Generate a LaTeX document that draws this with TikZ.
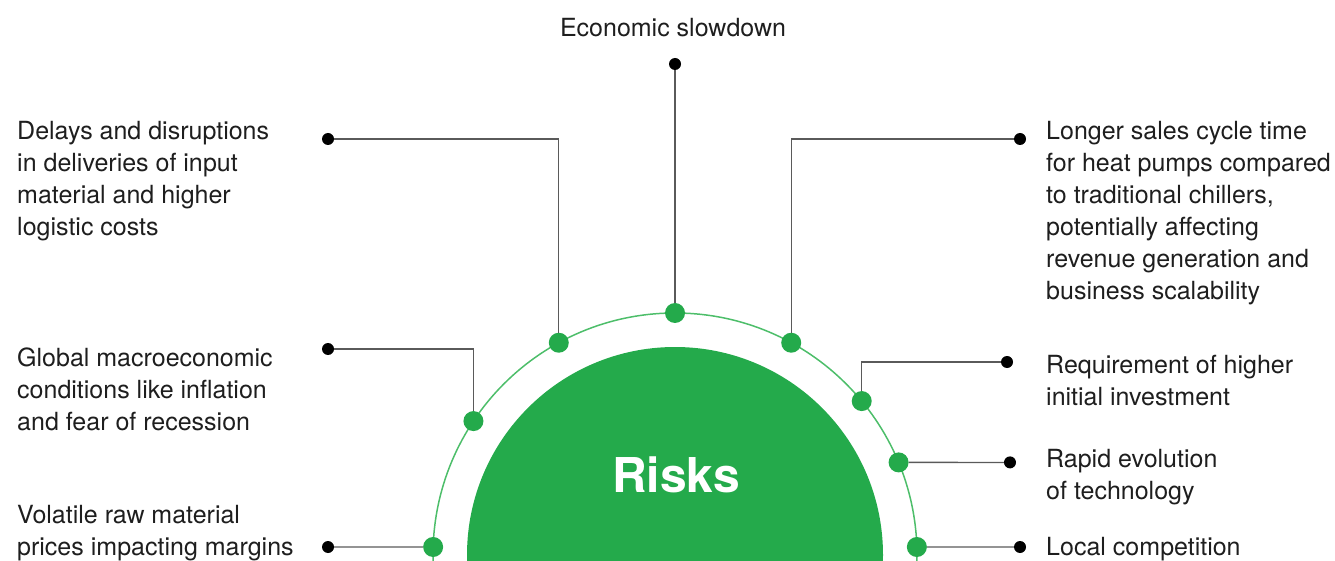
\documentclass[tikz,border=0pt]{standalone}
\usepackage{fontspec}
\setmainfont{TeX Gyre Heros}
\usetikzlibrary{calc}

\definecolor{riskgreen}{HTML}{24AA4B}
\definecolor{ringgreen}{HTML}{4DBE6A}
\definecolor{wiregray}{HTML}{5A5A5A}
\definecolor{ink}{HTML}{1E1E1E}

\begin{document}
\begin{tikzpicture}[x=1pt, y=1pt,
  gdot/.style={circle, fill=riskgreen, inner sep=0, minimum size=20pt},
  bdot/.style={circle, fill=black, inner sep=0, minimum size=12pt},
  wire/.style={draw=wiregray, line width=1.3pt},
  lbl/.style={anchor=west, align=left, inner sep=0, text=ink, font=\fontsize{25}{32}\selectfont}]
\useasboundingbox (0,0) rectangle (1335,560);
\clip (0,0) rectangle (1335,560);

\coordinate (O) at (675,5);

% half disk and the ring around it
\fill[riskgreen] (O) circle (208);
\draw[ringgreen, line width=1.5pt] (O) circle (242);
\node (risk) at (676,85) [white, font=\fontsize{48}{0}\selectfont\bfseries] {Risks};

% dots on the ring
\node[gdot] (g1) at ($(O)+(178.1:242)$) {};
\node[gdot] (g2) at ($(O)+(146.4:242)$) {};
\node[gdot] (g3) at ($(O)+(118.7:242)$) {};
\node[gdot] (g4) at ($(O)+(90:242)$) {};
\node[gdot] (g5) at ($(O)+(61.3:242)$) {};
\node[gdot] (g6) at ($(O)+(39.5:242)$) {};
\node[gdot] (g7) at ($(O)+(22.5:242)$) {};
\node[gdot] (g8) at ($(O)+(1.9:242)$) {};

% end points next to the labels
\node[bdot] (b1) at (328,13) {};
\node[bdot] (b2) at (328,211) {};
\node[bdot] (b3) at (328,421) {};
\node[bdot] (b4) at (675,496) {};
\node[bdot] (b5) at (1020,421) {};
\node[bdot] (b6) at (1007,198) {};
\node[bdot] (b7) at (1010,97.6) {};
\node[bdot] (b8) at (1020,13) {};

\draw[wire] (b1) -- (g1);
\draw[wire] (b2) -| (g2);
\draw[wire] (b3) -| (g3);
\draw[wire] (b4) -- (g4);
\draw[wire] (b5) -| (g5);
\draw[wire] (b6) -| (g6);
\draw[wire] (b7) -- (g7);
\draw[wire] (b8) -- (g8);

% labels
\node[lbl] (volatile) at (17,27) {Volatile raw material\\prices impacting margins};
\node[lbl] (global) at (17,171) {Global macroeconomic\\conditions like inflation\\and fear of recession};
\node[lbl] (delays) at (17,379) {Delays and disruptions\\in deliveries of input\\material and higher\\logistic costs};
\node[lbl, anchor=center] (slowdown) at (673,532) {Economic slowdown};
\node[lbl] (cycle) at (1046,347) {Longer sales cycle time\\for heat pumps compared\\to traditional chillers,\\potentially affecting\\revenue generation and\\business scalability};
\node[lbl] (invest) at (1046,179) {Requirement of higher\\initial investment};
\node[lbl] (techno) at (1046,83) {Rapid evolution\\of technology};
\node[lbl] (local) at (1046,11) {Local competition};

\end{tikzpicture}
\end{document}
